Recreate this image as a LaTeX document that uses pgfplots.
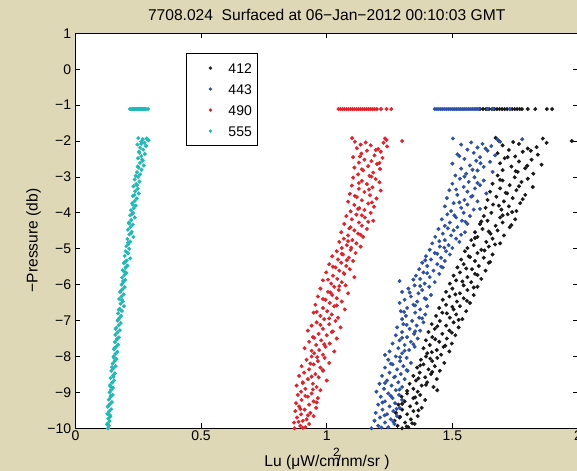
\documentclass[border=0pt]{standalone}
\usepackage{pgfplots}
\pgfplotsset{compat=1.18}
\usepackage{fontspec}
\setmainfont{Liberation Sans}
\definecolor{figbg}{RGB}{222,216,182}
\definecolor{sblack}{RGB}{25,25,25}
\definecolor{sblue}{RGB}{45,80,168}
\definecolor{sred}{RGB}{232,30,40}
\definecolor{scyan}{RGB}{30,186,186}
\newcommand{\fs}{\fontsize{14bp}{16bp}\selectfont}
\newcommand{\fl}{\fontsize{15.6bp}{18bp}\selectfont}
\begin{document}
\begin{tikzpicture}[x=1bp,y=1bp,font=\fs]
\fill[figbg] (-5,-5) rectangle (590,480);
\begin{axis}[
  at={(75.4bp,42.7bp)}, anchor=south west,
  scale only axis, width=502.6bp, height=395bp,
  xmin=0, xmax=2, ymin=-10, ymax=1,
  axis background/.style={fill=white},
  axis line style={black, line width=1bp},
  xtick={0,0.5,1,1.5,2}, xticklabels={0,0.5,1,1.5,2},
  ytick={-10,-9,-8,-7,-6,-5,-4,-3,-2,-1,0,1},
  yticklabels={−10,−9,−8,−7,−6,−5,−4,−3,−2,−1,0,1},
  minor tick num=0,
  tick align=inside, tick pos=both,
  major tick length=5bp,
  tick style={black, line width=0.8bp},
  xticklabel style={font=\fs, anchor=base, inner sep=0pt, yshift=-12bp},
  yticklabel style={font=\fs, anchor=east, inner sep=0pt, xshift=-4bp},
  legend style={at={(0.220,0.950)}, anchor=north west, draw=black, line width=1bp, fill=white,
     inner xsep=4bp, inner ysep=4bp, row sep=0pt, font=\fs,
     nodes={inner ysep=5.5bp, text height=10bp, text depth=0bp}},
  legend cell align=left,
  legend image code/.code={\path[draw=none,fill=none] (0bp,-1bp) rectangle (36bp,1bp); \fill[#1,draw=none] (20bp,0bp) circle (1.8bp);},
  every axis plot/.append style={only marks, mark=*, mark size=1.8bp, mark options={draw=none}},
]
% 412
\addplot[color=sblack, fill=sblack] coordinates {
(1.610,-1.11)(1.622,-1.11)(1.634,-1.11)(1.646,-1.11)(1.658,-1.11)(1.668,-1.11)(1.678,-1.11)(1.688,-1.11)(1.698,-1.11)(1.708,-1.11)(1.718,-1.11)(1.728,-1.11)(1.738,-1.11)(1.748,-1.11)(1.758,-1.11)(1.768,-1.11)(1.777,-1.11)(1.800,-1.11)(1.830,-1.11)(1.876,-1.11)(1.897,-1.11)
(1.672,-1.91)(1.860,-1.93)(1.975,-2.00)(1.685,-2.00)(1.875,-2.05)(1.765,-2.08)(1.700,-2.12)(1.835,-2.17)(1.800,-2.21)(1.725,-2.25)(1.780,-2.30)(1.680,-2.34)(1.840,-2.38)(1.750,-2.43)(1.708,-2.48)(1.815,-2.52)(1.765,-2.57)(1.690,-2.62)(1.855,-2.66)(1.735,-2.71)(1.790,-2.76)(1.700,-2.81)(1.760,-2.86)(1.822,-2.91)(1.680,-2.96)
(1.748,-3.01)(1.800,-3.05)(1.700,-3.10)(1.775,-3.14)(1.660,-3.19)(1.728,-3.23)(1.820,-3.28)(1.690,-3.32)(1.755,-3.37)(1.650,-3.41)(1.718,-3.46)(1.790,-3.50)(1.675,-3.55)(1.740,-3.59)(1.640,-3.64)(1.705,-3.68)(1.770,-3.73)(1.662,-3.77)(1.725,-3.82)(1.632,-3.86)(1.695,-3.91)(1.755,-3.95)
(1.655,-4.00)(1.720,-4.04)(1.625,-4.09)(1.690,-4.13)(1.750,-4.18)(1.640,-4.22)(1.700,-4.27)(1.610,-4.31)(1.672,-4.36)(1.728,-4.40)(1.620,-4.45)(1.680,-4.49)(1.590,-4.54)(1.652,-4.58)(1.705,-4.63)(1.600,-4.67)(1.660,-4.72)(1.575,-4.76)(1.635,-4.81)(1.690,-4.85)(1.585,-4.90)(1.645,-4.94)(1.560,-4.98)
(1.615,-5.03)(1.550,-5.07)(1.600,-5.12)(1.660,-5.16)(1.565,-5.21)(1.625,-5.25)(1.535,-5.30)(1.590,-5.34)(1.645,-5.39)(1.545,-5.43)(1.605,-5.48)(1.520,-5.52)(1.578,-5.57)(1.632,-5.61)(1.530,-5.66)(1.590,-5.70)(1.505,-5.75)(1.560,-5.79)(1.615,-5.84)(1.515,-5.88)(1.575,-5.93)(1.490,-5.97)
(1.545,-6.02)(1.600,-6.06)(1.500,-6.11)(1.560,-6.15)(1.475,-6.20)(1.530,-6.24)(1.585,-6.29)(1.488,-6.33)(1.545,-6.38)(1.462,-6.42)(1.518,-6.47)(1.570,-6.51)(1.475,-6.56)(1.530,-6.60)(1.448,-6.65)(1.505,-6.69)(1.555,-6.74)(1.460,-6.78)(1.515,-6.83)(1.435,-6.87)(1.490,-6.92)(1.540,-6.96)
(1.450,-7.01)(1.505,-7.05)(1.418,-7.10)(1.475,-7.14)(1.525,-7.19)(1.430,-7.23)(1.488,-7.28)(1.405,-7.32)(1.460,-7.37)(1.512,-7.41)(1.420,-7.46)(1.478,-7.50)(1.395,-7.55)(1.448,-7.59)(1.498,-7.64)(1.410,-7.68)(1.465,-7.73)(1.385,-7.77)(1.438,-7.82)(1.488,-7.86)(1.400,-7.91)(1.455,-7.95)
(1.395,-8.00)(1.440,-8.04)(1.375,-8.09)(1.420,-8.13)(1.468,-8.18)(1.385,-8.22)(1.430,-8.27)(1.360,-8.31)(1.405,-8.36)(1.450,-8.40)(1.370,-8.45)(1.415,-8.49)(1.345,-8.54)(1.392,-8.58)(1.438,-8.63)(1.355,-8.67)(1.400,-8.72)(1.330,-8.76)(1.378,-8.81)(1.425,-8.85)(1.345,-8.90)(1.440,-8.94)(1.362,-8.98)
(1.320,-9.03)(1.372,-9.07)(1.298,-9.12)(1.345,-9.16)(1.392,-9.21)(1.310,-9.25)(1.358,-9.30)(1.285,-9.34)(1.332,-9.39)(1.378,-9.43)(1.300,-9.48)(1.345,-9.52)(1.275,-9.57)(1.320,-9.61)(1.362,-9.66)(1.290,-9.70)(1.335,-9.75)(1.270,-9.79)(1.312,-9.84)(1.350,-9.88)(1.282,-9.93)(1.325,-9.97)(1.300,-10.00)
(1.742,-2.03)(1.812,-2.27)(1.720,-2.45)(1.798,-2.69)(1.752,-2.84)(1.690,-3.08)(1.765,-3.26)(1.712,-3.44)(1.780,-3.62)(1.685,-3.80)(1.738,-3.98)(1.700,-4.07)(1.615,-4.24)(1.735,-4.34)(1.645,-4.52)(1.590,-4.70)(1.670,-4.88)(1.628,-5.05)(1.570,-5.23)(1.650,-5.37)(1.555,-5.55)(1.600,-5.73)(1.540,-5.91)(1.585,-6.08)(1.512,-6.27)(1.558,-6.45)(1.500,-6.62)(1.478,-6.80)(1.525,-6.98)(1.440,-7.16)(1.498,-7.34)(1.432,-7.52)(1.472,-7.70)(1.418,-7.88)(1.412,-8.06)(1.372,-8.25)(1.420,-8.43)(1.365,-8.61)(1.395,-8.79)(1.320,-8.96)(1.352,-9.14)(1.300,-9.32)(1.365,-9.50)(1.292,-9.68)(1.340,-9.86)(1.318,-9.95)
};
\addlegendentry{412}
% 443
\addplot[color=sblue, fill=sblue] coordinates {
(1.430,-1.11)(1.438,-1.11)(1.446,-1.11)(1.454,-1.11)(1.462,-1.11)(1.470,-1.11)(1.478,-1.11)(1.486,-1.11)(1.494,-1.11)(1.502,-1.11)(1.510,-1.11)(1.518,-1.11)(1.526,-1.11)(1.534,-1.11)(1.542,-1.11)(1.550,-1.11)(1.558,-1.11)(1.566,-1.11)(1.574,-1.11)(1.582,-1.11)(1.590,-1.11)(1.598,-1.11)(1.606,-1.11)(1.640,-1.11)(1.662,-1.11)(1.728,-1.11)
(1.502,-1.93)(1.778,-1.95)(1.680,-1.96)(1.690,-2.02)(1.535,-2.10)(1.620,-2.08)(1.655,-2.14)(1.600,-2.18)(1.560,-2.24)(1.640,-2.27)(1.585,-2.33)(1.520,-2.37)(1.670,-2.40)(1.610,-2.45)(1.548,-2.50)(1.595,-2.55)(1.650,-2.58)(1.500,-2.63)(1.570,-2.68)(1.625,-2.72)(1.535,-2.77)(1.600,-2.82)(1.660,-2.86)(1.555,-2.91)(1.512,-2.96)
(1.588,-3.01)(1.530,-3.05)(1.625,-3.10)(1.565,-3.14)(1.500,-3.19)(1.610,-3.23)(1.545,-3.28)(1.590,-3.32)(1.488,-3.37)(1.560,-3.41)(1.635,-3.46)(1.520,-3.50)(1.575,-3.55)(1.478,-3.59)(1.548,-3.64)(1.600,-3.68)(1.505,-3.73)(1.560,-3.77)(1.470,-3.82)(1.535,-3.86)(1.585,-3.91)(1.495,-3.95)
(1.545,-4.00)(1.480,-4.04)(1.570,-4.09)(1.515,-4.13)(1.458,-4.18)(1.538,-4.22)(1.490,-4.27)(1.560,-4.31)(1.470,-4.36)(1.520,-4.40)(1.445,-4.45)(1.505,-4.49)(1.550,-4.54)(1.462,-4.58)(1.495,-4.63)(1.432,-4.67)(1.515,-4.72)(1.470,-4.76)(1.528,-4.81)(1.420,-4.85)(1.485,-4.90)(1.450,-4.94)(1.500,-4.98)
(1.410,-5.03)(1.475,-5.07)(1.430,-5.12)(1.490,-5.16)(1.395,-5.21)(1.455,-5.25)(1.415,-5.30)(1.470,-5.34)(1.380,-5.39)(1.440,-5.43)(1.400,-5.48)(1.462,-5.52)(1.368,-5.57)(1.425,-5.61)(1.385,-5.66)(1.448,-5.70)(1.355,-5.75)(1.410,-5.79)(1.372,-5.84)(1.290,-5.90)(1.430,-5.93)(1.390,-5.97)
(1.350,-6.02)(1.408,-6.06)(1.325,-6.11)(1.380,-6.15)(1.300,-6.20)(1.365,-6.24)(1.415,-6.29)(1.335,-6.33)(1.390,-6.38)(1.310,-6.42)(1.360,-6.47)(1.290,-6.51)(1.345,-6.56)(1.400,-6.60)(1.320,-6.65)(1.372,-6.69)(1.295,-6.74)(1.352,-6.78)(1.392,-6.83)(1.315,-6.87)(1.368,-6.92)(1.300,-6.96)
(1.340,-7.01)(1.385,-7.05)(1.305,-7.10)(1.358,-7.14)(1.280,-7.19)(1.330,-7.23)(1.372,-7.28)(1.300,-7.32)(1.348,-7.37)(1.275,-7.41)(1.320,-7.46)(1.362,-7.50)(1.290,-7.55)(1.335,-7.59)(1.262,-7.64)(1.310,-7.68)(1.350,-7.73)(1.285,-7.77)(1.328,-7.82)(1.250,-7.86)(1.300,-7.91)(1.232,-7.96)
(1.275,-8.00)(1.318,-8.04)(1.245,-8.09)(1.292,-8.13)(1.335,-8.18)(1.262,-8.22)(1.305,-8.27)(1.232,-8.31)(1.280,-8.36)(1.322,-8.40)(1.250,-8.45)(1.295,-8.49)(1.220,-8.54)(1.268,-8.58)(1.310,-8.63)(1.240,-8.67)(1.285,-8.72)(1.210,-8.76)(1.258,-8.81)(1.300,-8.85)(1.228,-8.90)(1.275,-8.94)(1.198,-8.98)
(1.245,-9.03)(1.288,-9.07)(1.215,-9.12)(1.262,-9.16)(1.300,-9.21)(1.232,-9.25)(1.272,-9.30)(1.205,-9.34)(1.250,-9.39)(1.290,-9.43)(1.222,-9.48)(1.265,-9.52)(1.195,-9.57)(1.240,-9.61)(1.280,-9.66)(1.212,-9.70)(1.255,-9.75)(1.190,-9.79)(1.232,-9.84)(1.270,-9.88)(1.205,-9.93)(1.245,-9.97)(1.178,-10.00)
(1.575,-2.04)(1.632,-2.21)(1.528,-2.42)(1.612,-2.62)(1.580,-2.80)(1.548,-2.99)(1.600,-3.17)(1.515,-3.35)(1.580,-3.53)(1.528,-3.71)(1.610,-3.89)(1.508,-4.07)(1.552,-4.25)(1.482,-4.43)(1.535,-4.61)(1.448,-4.79)(1.468,-4.97)(1.440,-5.14)(1.392,-5.32)(1.455,-5.50)(1.400,-5.68)(1.345,-5.86)(1.372,-6.04)(1.330,-6.22)(1.395,-6.40)(1.352,-6.58)(1.308,-6.76)(1.380,-6.94)(1.318,-7.12)(1.352,-7.30)(1.300,-7.48)(1.345,-7.66)(1.310,-7.84)(1.292,-8.02)(1.255,-8.20)(1.318,-8.38)(1.272,-8.56)(1.232,-8.74)(1.290,-8.92)(1.255,-9.10)(1.222,-9.28)(1.278,-9.46)(1.230,-9.64)(1.265,-9.82)(1.218,-9.98)
};
\addlegendentry{443}
% 490
\addplot[color=sred, fill=sred] coordinates {
(1.047,-1.11)(1.055,-1.11)(1.063,-1.11)(1.071,-1.11)(1.079,-1.11)(1.087,-1.11)(1.095,-1.11)(1.103,-1.11)(1.111,-1.11)(1.119,-1.11)(1.127,-1.11)(1.135,-1.11)(1.143,-1.11)(1.151,-1.11)(1.159,-1.11)(1.167,-1.11)(1.175,-1.11)(1.183,-1.11)(1.191,-1.11)(1.200,-1.11)(1.216,-1.11)(1.238,-1.11)(1.257,-1.11)
(1.101,-1.92)(1.232,-1.93)(1.238,-1.97)(1.300,-2.00)(1.112,-2.02)(1.226,-2.05)(1.135,-2.10)(1.175,-2.12)(1.240,-2.15)(1.120,-2.20)(1.205,-2.22)(1.160,-2.27)(1.215,-2.30)(1.138,-2.35)(1.190,-2.40)(1.105,-2.45)(1.222,-2.47)(1.150,-2.52)(1.178,-2.56)(1.128,-2.60)(1.200,-2.64)(1.165,-2.70)(1.110,-2.74)(1.212,-2.78)(1.145,-2.82)(1.185,-2.88)(1.125,-2.93)(1.170,-2.97)
(1.105,-3.02)(1.195,-3.06)(1.140,-3.11)(1.210,-3.15)(1.160,-3.20)(1.100,-3.24)(1.182,-3.29)(1.128,-3.33)(1.215,-3.38)(1.150,-3.42)(1.092,-3.47)(1.172,-3.51)(1.120,-3.56)(1.198,-3.60)(1.140,-3.65)(1.085,-3.69)(1.165,-3.74)(1.110,-3.78)(1.188,-3.83)(1.130,-3.87)(1.150,-3.92)(1.095,-3.96)
(1.175,-4.00)(1.118,-4.05)(1.078,-4.09)(1.152,-4.13)(1.100,-4.18)(1.185,-4.22)(1.128,-4.27)(1.070,-4.31)(1.140,-4.36)(1.095,-4.40)(1.160,-4.45)(1.110,-4.49)(1.058,-4.54)(1.125,-4.58)(1.085,-4.63)(1.145,-4.67)(1.068,-4.72)(1.102,-4.76)(1.050,-4.81)(1.118,-4.85)(1.080,-4.90)(1.135,-4.94)(1.060,-4.98)
(1.095,-5.03)(1.040,-5.07)(1.115,-5.12)(1.065,-5.16)(1.022,-5.21)(1.088,-5.25)(1.045,-5.30)(1.105,-5.34)(1.058,-5.39)(1.010,-5.43)(1.078,-5.48)(1.035,-5.52)(1.092,-5.57)(1.050,-5.61)(0.998,-5.66)(1.070,-5.70)(1.025,-5.75)(1.110,-5.79)(1.042,-5.84)(0.985,-5.88)(1.060,-5.93)(1.018,-5.97)
(1.075,-6.02)(1.030,-6.06)(0.975,-6.11)(1.048,-6.15)(1.005,-6.20)(1.085,-6.24)(1.022,-6.29)(0.965,-6.33)(1.040,-6.38)(0.995,-6.42)(1.060,-6.47)(1.012,-6.51)(0.955,-6.56)(1.030,-6.60)(0.985,-6.65)(1.072,-6.69)(1.002,-6.74)(0.948,-6.78)(1.020,-6.83)(0.975,-6.87)(1.045,-6.92)(0.990,-6.96)
(1.035,-7.01)(0.960,-7.05)(1.010,-7.10)(0.940,-7.14)(1.055,-7.19)(0.985,-7.23)(0.925,-7.28)(1.020,-7.32)(0.968,-7.37)(1.000,-7.41)(0.945,-7.46)(1.040,-7.50)(0.978,-7.55)(0.930,-7.59)(1.012,-7.64)(0.958,-7.68)(0.995,-7.73)(0.912,-7.77)(0.970,-7.82)(1.030,-7.86)(0.950,-7.91)(0.985,-7.95)
(0.940,-8.00)(0.992,-8.04)(0.920,-8.09)(0.965,-8.13)(1.010,-8.18)(0.948,-8.22)(0.900,-8.27)(0.975,-8.31)(0.930,-8.36)(0.985,-8.40)(0.910,-8.45)(0.955,-8.49)(0.890,-8.54)(0.968,-8.58)(0.925,-8.63)(1.000,-8.67)(0.905,-8.72)(0.945,-8.76)(0.880,-8.81)(0.960,-8.85)(0.915,-8.90)(0.975,-8.94)(0.898,-8.98)
(0.940,-9.03)(0.885,-9.07)(0.925,-9.12)(0.965,-9.16)(0.900,-9.21)(0.948,-9.25)(0.878,-9.30)(0.930,-9.34)(0.890,-9.39)(0.958,-9.43)(0.912,-9.48)(0.875,-9.52)(0.935,-9.57)(0.898,-9.61)(0.948,-9.66)(0.882,-9.70)(0.920,-9.75)(0.905,-9.79)(0.870,-9.84)(0.930,-9.88)(0.895,-9.93)(0.915,-9.97)(0.872,-10.00)
(1.155,-2.04)(1.195,-2.25)(1.132,-2.43)(1.210,-2.61)(1.140,-2.79)(1.178,-2.99)(1.128,-3.17)(1.168,-3.35)(1.112,-3.53)(1.180,-3.71)(1.125,-3.89)(1.140,-4.07)(1.165,-4.25)(1.090,-4.43)(1.135,-4.61)(1.085,-4.79)(1.098,-4.97)(1.060,-5.14)(1.080,-5.32)(1.025,-5.50)(1.068,-5.68)(1.005,-5.86)(1.050,-6.04)(1.015,-6.22)(0.985,-6.40)(1.040,-6.58)(0.960,-6.76)(1.010,-6.94)(0.975,-7.12)(1.025,-7.30)(0.950,-7.48)(0.990,-7.66)(0.940,-7.84)(0.962,-8.02)(0.935,-8.20)(0.985,-8.38)(0.940,-8.56)(0.905,-8.74)(0.945,-8.92)(0.915,-9.10)(0.960,-9.28)(0.895,-9.46)(0.925,-9.64)(0.888,-9.82)(0.905,-9.99)
};
\addlegendentry{490}
% 555
\addplot[color=scyan, fill=scyan] coordinates {
(0.217,-1.11)(0.222,-1.11)(0.227,-1.11)(0.232,-1.11)(0.236,-1.11)(0.240,-1.11)(0.244,-1.11)(0.248,-1.11)(0.252,-1.11)(0.256,-1.11)(0.260,-1.11)(0.264,-1.11)(0.268,-1.11)(0.272,-1.11)(0.276,-1.11)(0.281,-1.11)(0.289,-1.11)
(0.250,-1.92)(0.268,-1.95)(0.284,-1.93)(0.291,-1.98)(0.262,-2.02)(0.275,-2.05)(0.247,-2.10)(0.281,-2.14)(0.258,-2.19)(0.270,-2.24)(0.253,-2.30)(0.276,-2.36)(0.262,-2.42)(0.249,-2.48)(0.268,-2.55)(0.257,-2.61)(0.272,-2.68)(0.251,-2.74)(0.263,-2.80)(0.245,-2.87)(0.258,-2.93)
(0.250,-3.00)(0.236,-3.07)(0.255,-3.13)(0.242,-3.20)(0.231,-3.26)(0.248,-3.33)(0.238,-3.40)(0.252,-3.46)(0.229,-3.53)(0.244,-3.60)(0.236,-3.67)(0.226,-3.73)(0.240,-3.80)(0.232,-3.87)(0.221,-3.93)
(0.230,-4.00)(0.218,-4.07)(0.236,-4.13)(0.222,-4.20)(0.213,-4.27)(0.228,-4.33)(0.219,-4.40)(0.209,-4.47)(0.224,-4.53)(0.215,-4.60)(0.231,-4.67)(0.207,-4.73)(0.218,-4.80)(0.211,-4.87)(0.203,-4.93)
(0.214,-5.00)(0.200,-5.07)(0.210,-5.13)(0.196,-5.20)(0.218,-5.27)(0.204,-5.33)(0.193,-5.40)(0.207,-5.47)(0.199,-5.53)(0.188,-5.60)(0.203,-5.67)(0.195,-5.73)(0.186,-5.80)(0.198,-5.87)(0.191,-5.93)
(0.184,-6.00)(0.196,-6.07)(0.187,-6.13)(0.178,-6.20)(0.192,-6.27)(0.183,-6.33)(0.174,-6.40)(0.189,-6.47)(0.180,-6.53)(0.193,-6.60)(0.176,-6.67)(0.185,-6.73)(0.170,-6.80)(0.182,-6.87)(0.175,-6.93)
(0.168,-7.00)(0.180,-7.07)(0.172,-7.13)(0.163,-7.20)(0.177,-7.27)(0.167,-7.33)(0.159,-7.40)(0.173,-7.47)(0.165,-7.53)(0.157,-7.60)(0.170,-7.67)(0.162,-7.73)(0.154,-7.80)(0.167,-7.87)(0.159,-7.93)
(0.152,-8.00)(0.164,-8.07)(0.156,-8.13)(0.148,-8.20)(0.160,-8.27)(0.151,-8.33)(0.143,-8.40)(0.157,-8.47)(0.149,-8.53)(0.140,-8.60)(0.154,-8.67)(0.146,-8.73)(0.138,-8.80)(0.150,-8.87)(0.142,-8.93)
(0.136,-9.00)(0.148,-9.07)(0.140,-9.13)(0.133,-9.20)(0.145,-9.27)(0.137,-9.33)(0.129,-9.40)(0.142,-9.47)(0.134,-9.53)(0.127,-9.60)(0.139,-9.67)(0.131,-9.73)(0.136,-9.80)(0.128,-9.87)(0.133,-9.93)(0.130,-10.00)
(0.262,-2.08)(0.255,-2.33)(0.266,-2.52)(0.248,-2.71)(0.240,-2.97)(0.246,-3.23)(0.235,-3.50)(0.228,-3.77)(0.226,-4.03)(0.214,-4.30)(0.222,-4.57)(0.210,-4.83)(0.205,-5.10)(0.197,-5.37)(0.194,-5.63)(0.190,-5.90)(0.181,-6.17)(0.186,-6.43)(0.172,-6.70)(0.171,-6.97)(0.160,-7.23)(0.166,-7.50)(0.155,-7.77)(0.153,-8.03)(0.145,-8.30)(0.152,-8.57)(0.139,-8.83)(0.141,-9.10)(0.132,-9.37)(0.137,-9.63)(0.126,-9.90)
};
\addlegendentry{555}
\end{axis}
\node[anchor=base, font=\fl] at (326.7,450.3) {7708.024~~Surfaced at 06−Jan−2012 00:10:03 GMT};
\node[anchor=base, inner sep=0pt, font=\fl] at (327,4.3) {Lu (μW/cm\llap{\raisebox{0.68em}{\fontsize{12bp}{12bp}\selectfont 2}\kern0.02em}\kern-0.22em/nm/sr )};
\node[anchor=base, rotate=90, inner sep=0pt, font=\fl] at (37.5,230.5) {−Pressure (db)};
\pgfresetboundingbox
\path[use as bounding box] (0,0) rectangle (577,471);
\end{tikzpicture}
\end{document}
